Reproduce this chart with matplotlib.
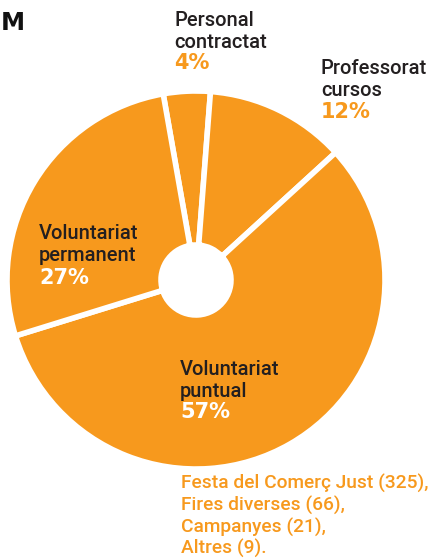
import matplotlib.pyplot as plt

# shares of the team (%), clockwise from the top
labels = ['Personal\ncontractat', 'Professorat\ncursos', 'Voluntariat\npuntual', 'Voluntariat\npermanent']
values = [4, 12, 57, 27]
pct_text = ['4%', '12%', '57%', '27%']
note_lines = ['Festa del Comerç Just (325),', 'Fires diverses (66),', 'Campanyes (21),', 'Altres (9).']

orange = '#F7991D'
dark = '#231F20'
H = 558
txt_family = ['Roboto', 'DejaVu Sans']

fig = plt.figure(figsize=(4.3, 5.58), dpi=100)
ax = fig.add_axes([0, 0, 1, 1])

ax.pie(values, colors=[orange] * len(values), startangle=100, counterclock=False,
       center=(196, H - 280), radius=189,
       wedgeprops=dict(width=189 - 35, edgecolor='white', linewidth=4))
ax.set_xlim(0, 430)
ax.set_ylim(0, H)
ax.set_aspect('auto')
ax.axis('off')

name_font = dict(family=txt_family, fontweight='medium', fontsize=14.5, color=dark,
                 va='baseline', ha='left')
pct_font = dict(family='DejaVu Sans', fontweight='bold', fontsize=15,
                va='baseline', ha='left')

# label positions in pixels: x, first baseline, percent baseline, percent colour
pos = [(174, 26, 69, orange),
       (321, 74, 118, orange),
       (180, 375, 418, 'white'),
       (39, 239, 284, 'white')]

for lab, pct, (x, y1, y2, c) in zip(labels, pct_text, pos):
    first, second = lab.split('\n')
    ax.text(x, H - y1, first, **name_font)
    ax.text(x, H - y1 - 22, second, **name_font)
    ax.text(x, H - y2, pct, color=c, **pct_font)

for i, line in enumerate(note_lines):
    ax.text(181, H - 489 - 21.7 * i, line, family=txt_family, fontweight='medium',
            fontsize=13.8, color=orange, va='baseline', ha='left')

ax.text(1, H - 30, 'M', family='DejaVu Sans', fontweight='bold', fontsize=17.5,
        color='#111111', va='baseline', ha='left')

fig.savefig('out.png', dpi=100)
